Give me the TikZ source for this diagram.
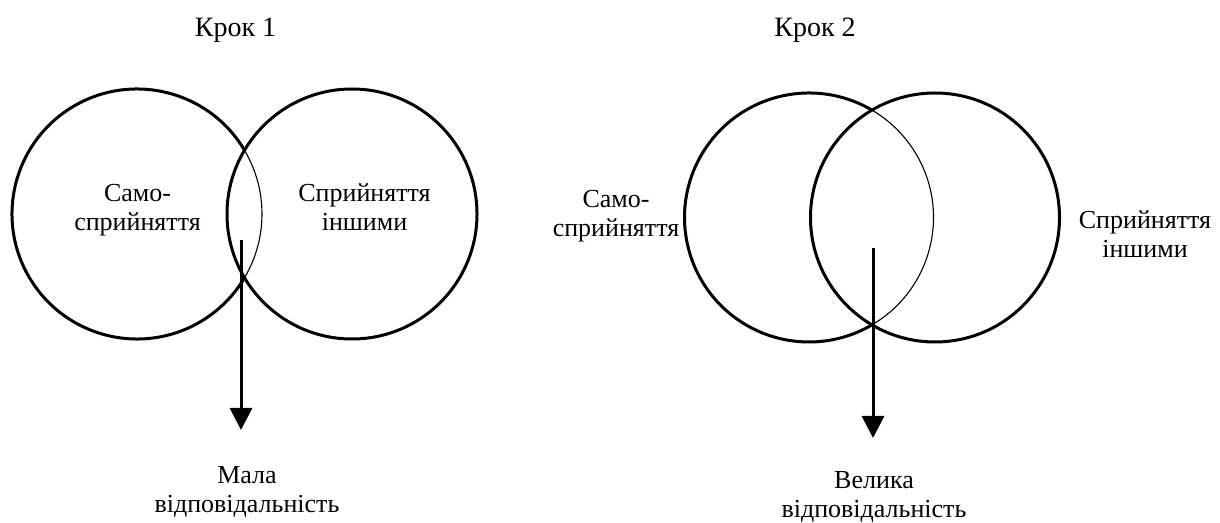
\documentclass[tikz,border=0pt]{standalone}
\usepackage{fontspec}
\setmainfont{Liberation Serif}
\usetikzlibrary{arrows.meta}
\begin{document}
\begin{tikzpicture}[x=1pt,y=1pt,
  outline/.style={line width=3pt},
  inner arc/.style={line width=1.1pt},
  pointer/.style={line width=3pt,-{Triangle[width=22pt,length=22pt]}},
  label/.style={font=\fontsize{26}{29}\selectfont,align=center,anchor=base,inner sep=0pt},
  title/.style={font=\fontsize{28}{32}\selectfont,anchor=base,inner sep=0pt}]
\useasboundingbox (0,0) rectangle (1220,522);
% Step 1
\coordinate (c1) at (137,308);
\coordinate (c2) at (352,308);
\draw[outline] (c1) ++(30.8:125) arc[start angle=30.8,end angle=329.2,radius=125];
\draw[inner arc] (c1) ++(-30.8:125) arc[start angle=-30.8,end angle=30.8,radius=125];
\draw[outline] (c2) circle[radius=125];
% Step 2
\coordinate (c3) at (809,304.5);
\coordinate (c4) at (935,304.5);
\draw[outline] (c3) ++(59.6:124.5) arc[start angle=59.6,end angle=300.4,radius=124.5];
\draw[inner arc] (c3) ++(-59.6:124.5) arc[start angle=-59.6,end angle=59.6,radius=124.5];
\draw[outline] (c4) circle[radius=124.5];
% titles
\node[title] (k1) at (235.5,485) {Крок 1};
\node[title] (k2) at (815,485) {Крок 2};
% circle labels (anchor at baseline of last line)
\node[label] (self1) at (137.5,291) {Само-\\сприйняття};
\node[label] (oth1) at (364.5,291) {Сприйняття\\іншими};
\node[label] (self2) at (616,285) {Само-\\сприйняття};
\node[label] (oth2) at (1145,264) {Сприйняття\\іншими};
% results
\node[label] (low) at (247,10) {Мала\\відповідальність};
\node[label] (high) at (874,5) {Велика\\відповідальність};
% arrows
\coordinate (a1s) at (241,282);
\coordinate (a1e) at (241,92);
\coordinate (a2s) at (873,274);
\coordinate (a2e) at (873,84);
\draw[pointer] (a1s) -- (a1e);
\draw[pointer] (a2s) -- (a2e);
\end{tikzpicture}
\end{document}
